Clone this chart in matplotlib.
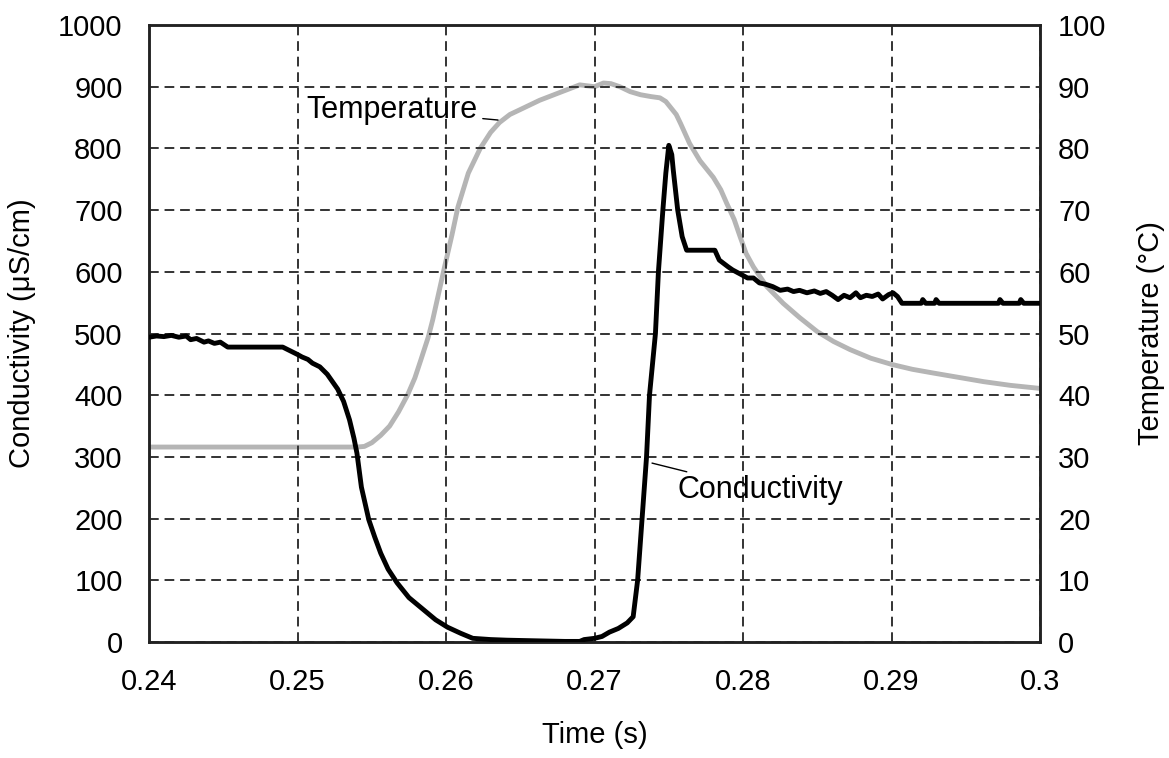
import matplotlib
matplotlib.use('Agg')
import matplotlib.pyplot as plt

plt.rcParams['font.family'] = ['Liberation Sans', 'DejaVu Sans']

# conductivity (uS/cm)
cond_t = [0.2400, 0.2405, 0.2410, 0.2415, 0.2420, 0.2425, 0.2428, 0.2432, 0.2437,
          0.2440, 0.2444, 0.2448, 0.2453, 0.2490, 0.2495, 0.2500, 0.2503, 0.2507,
          0.2510, 0.2515, 0.2520, 0.2527, 0.2531, 0.2535, 0.2538, 0.2540, 0.2543,
          0.2548, 0.2552, 0.2556, 0.2561, 0.2567, 0.2575, 0.2585, 0.2593, 0.2601,
          0.2610, 0.2618, 0.2630, 0.2641, 0.2660, 0.2680, 0.2690, 0.2693, 0.2700,
          0.2705, 0.2710, 0.2716, 0.2722, 0.2726, 0.2729, 0.2732, 0.2735, 0.2737,
          0.2741, 0.2743, 0.2746, 0.2748, 0.2750, 0.2752, 0.2753, 0.2756, 0.2759,
          0.2762, 0.2781, 0.2784, 0.2790, 0.2793, 0.2800, 0.2803, 0.2807, 0.2811,
          0.2815, 0.2820, 0.2825, 0.2830, 0.2834, 0.2838, 0.2843, 0.2848, 0.2852,
          0.2856, 0.2860, 0.2864, 0.2868, 0.2872, 0.2876, 0.2879, 0.2883, 0.2887,
          0.2891, 0.2894, 0.2898, 0.2901, 0.2904, 0.2907, 0.2920, 0.2921, 0.2923,
          0.2929, 0.2930, 0.2932, 0.2972, 0.2973, 0.2975, 0.2986, 0.2987, 0.2989,
          0.3000]
cond_v = [494, 496, 495, 497, 494, 496, 490, 492, 486,
          488, 484, 486, 478, 478, 472, 466, 462, 458,
          452, 446, 434, 410, 390, 360, 330, 306, 251,
          198, 170, 144, 118, 96, 72, 52, 36, 24,
          14, 6, 4, 3, 2, 1, 1, 4, 6,
          9, 16, 22, 31, 41, 100, 200, 300, 400,
          500, 600, 700, 760, 805, 790, 765, 700, 657,
          635, 635, 619, 608, 603, 594, 590, 590, 582,
          580, 576, 570, 572, 568, 570, 566, 569, 565,
          568, 562, 555, 562, 558, 566, 558, 562, 560,
          564, 556, 563, 566, 560, 549, 549, 555, 549,
          549, 555, 549, 549, 555, 549, 549, 555, 549,
          549]

# temperature (degC)
temp_t = [0.2400, 0.2540, 0.2545, 0.2550, 0.2556, 0.2562, 0.2568, 0.2574, 0.2579,
          0.2583, 0.2588, 0.2591, 0.2595, 0.2599, 0.2604, 0.2608, 0.2615, 0.2623,
          0.2630, 0.2636, 0.2643, 0.2650, 0.2663, 0.2677, 0.2690, 0.2700, 0.2706,
          0.2711, 0.2717, 0.2724, 0.2731, 0.2738, 0.2744, 0.2748, 0.2751, 0.2755,
          0.2758, 0.2764, 0.2771, 0.2780, 0.2785, 0.2789, 0.2794, 0.2798, 0.2802,
          0.2807, 0.2816, 0.2827, 0.2838, 0.2850, 0.2861, 0.2872, 0.2886, 0.2900,
          0.2914, 0.2928, 0.2945, 0.2962, 0.2980, 0.3000]
temp_v = [31.6, 31.6, 31.7, 32.3, 33.5, 35.0, 37.3, 40.0, 42.8,
          45.7, 49.4, 52.2, 56.5, 60.8, 66.0, 70.5, 76.0, 80.0,
          82.6, 84.2, 85.5, 86.3, 87.8, 89.1, 90.3, 90.0, 90.6,
          90.5, 90.0, 89.2, 88.7, 88.4, 88.2, 87.6, 86.7, 85.5,
          84.0, 80.8, 78.0, 75.3, 73.3, 71.1, 68.5, 65.7, 63.0,
          60.8, 57.6, 54.9, 52.6, 50.3, 48.7, 47.4, 46.0, 45.0,
          44.2, 43.6, 42.9, 42.2, 41.6, 41.1]

x_ticks = [0.24, 0.25, 0.26, 0.27, 0.28, 0.29, 0.3]
x_labels = ['0.24', '0.25', '0.26', '0.27', '0.28', '0.29', '0.3']
cond_ticks = list(range(0, 1001, 100))
temp_ticks = list(range(0, 101, 10))

fig = plt.figure(figsize=(11.69, 7.58), dpi=100)
ax = fig.add_axes([0.1275, 0.153, 0.7622, 0.814])
ax2 = ax.twinx()

ax2.plot(temp_t, temp_v, color='#b5b5b5', lw=3.5, zorder=2)
ax.plot(cond_t, cond_v, color='black', lw=3.5, zorder=3)

# conductivity in front of temperature
ax.set_zorder(ax2.get_zorder() + 1)
ax.patch.set_visible(False)

ax.set_xlim(0.24, 0.3)
ax.set_ylim(0, 1000)
ax2.set_ylim(0, 100)
ax.set_xticks(x_ticks)
ax.set_xticklabels(x_labels)
ax.set_yticks(cond_ticks)
ax2.set_yticks(temp_ticks)

ax.grid(True, color='#333333', linestyle=(0, (5, 3)), lw=1.4)
ax.tick_params(axis='y', length=0, labelsize=21, pad=19)
ax.tick_params(axis='x', length=0, labelsize=21, pad=19)
ax2.tick_params(length=0, labelsize=21, pad=13)

for sp in list(ax.spines.values()) + list(ax2.spines.values()):
    sp.set_linewidth(1.8)
    sp.set_color('#222222')

ax.set_xlabel('Time (s)', fontsize=21, labelpad=18)
ax.set_ylabel('Conductivity (μS/cm)', fontsize=21, labelpad=16)
ax2.set_ylabel('Temperature (°C)', fontsize=21, labelpad=22)

# labels with leader lines
ax.annotate('Temperature', xy=(0.2635, 846), xytext=(0.2621, 862),
            fontsize=22, ha='right', va='center',
            arrowprops=dict(arrowstyle='-', color='black', lw=1,
                            shrinkA=2, shrinkB=0))
ax.annotate('Conductivity', xy=(0.27387, 290), xytext=(0.2756, 246),
            fontsize=22, ha='left', va='center',
            arrowprops=dict(arrowstyle='-', color='black', lw=1,
                            shrinkA=2, shrinkB=0))

fig.savefig('out.png', dpi=100)
